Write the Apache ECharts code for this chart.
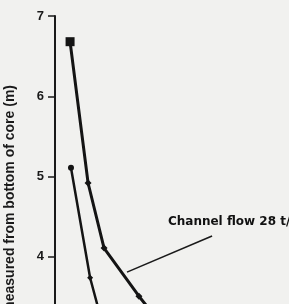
<!DOCTYPE html>
<html>
<head>
<meta charset="utf-8">
<script src="https://cdn.jsdelivr.net/npm/echarts@6/dist/echarts.min.js"></script>
<style>
html,body{margin:0;padding:0;width:289px;height:304px;overflow:hidden;background:#f1f1ef;}
#c{width:289px;height:600px;}
</style>
</head>
<body>
<div id="c"></div>
<script>
// Data (chart is a cropped view)
var yTicks = [0, 1, 2, 3, 4, 5, 6, 7];
var series1X = [0.67, 1.47, 2.18, 3.73, 4.9];
var series1Y = [6.68, 4.92, 4.11, 3.51, 3.1];
var series2X = [0.71, 1.56, 2.36];
var series2Y = [5.11, 3.74, 2.9];
var arrowFrom = [6.98, 4.26];
var arrowTo = [3.2, 3.81];
var annotationText = 'Channel flow 28 t/h';
var annotationPos = [5.02, 4.44];
var yAxisTitle = 'Height measured from bottom of core (m)';

var chart = echarts.init(document.getElementById('c'), null, {renderer: 'canvas'});

function pts(xs, ys, firstSymbol, firstSize, otherSymbol, otherSize) {
  return xs.map(function (x, i) {
    return {
      value: [x, ys[i]],
      symbol: i === 0 ? firstSymbol : otherSymbol,
      symbolSize: i === 0 ? firstSize : otherSize
    };
  });
}

var option = {
  backgroundColor: '#f1f1ef',
  animation: false,
  grid: {left: 55, top: 16, width: 225, height: 562, containLabel: false},
  xAxis: {
    type: 'value', min: 0, max: 10,
    axisLine: {show: true, lineStyle: {color: '#1a1a1a', width: 2}},
    splitLine: {show: false},
    axisLabel: {show: false}
  },
  yAxis: {
    type: 'value', min: 0, max: 7, interval: 1,
    axisLine: {show: true, lineStyle: {color: '#1a1a1a', width: 2}},
    axisTick: {show: true, length: 7, lineStyle: {color: '#1a1a1a', width: 1.5}},
    splitLine: {show: false},
    axisLabel: {
      color: '#1a1a1a', fontSize: 13, fontWeight: 'bold', margin: 11,
      fontFamily: 'Liberation Sans, Arial, sans-serif',
      formatter: function (v) { return yTicks.indexOf(v) >= 0 ? String(v) : ''; }
    }
  },
  series: [
    {
      type: 'line',
      data: pts(series1X, series1Y, 'rect', 9, 'diamond', 7),
      lineStyle: {color: '#141414', width: 3},
      itemStyle: {color: '#141414'},
      markLine: {
        silent: true,
        symbol: ['none', 'arrow'],
        symbolSize: [0, 9],
        lineStyle: {color: '#1a1a1a', width: 1.6, type: 'solid'},
        label: {show: false},
        data: [[{coord: arrowFrom}, {coord: arrowTo}]]
      }
    },
    {
      type: 'line',
      data: pts(series2X, series2Y, 'circle', 6, 'diamond', 6),
      lineStyle: {color: '#141414', width: 2.5},
      itemStyle: {color: '#141414'}
    }
  ]
};
chart.setOption(option);

var p = chart.convertToPixel({gridIndex: 0}, annotationPos);
chart.setOption({
  graphic: [
    {
      type: 'text', x: p[0], y: p[1],
      style: {text: annotationText, fill: '#111', font: 'bold 12px "DejaVu Sans", Arial, sans-serif',
              textAlign: 'left', textVerticalAlign: 'middle'}
    },
    {
      type: 'text', x: 10, y: 85, rotation: Math.PI / 2,
      style: {text: yAxisTitle, fill: '#1a1a1a', font: 'bold 14px "Liberation Sans", Arial, sans-serif',
              textAlign: 'right', textVerticalAlign: 'middle'}
    }
  ]
});
</script>
</body>
</html>
